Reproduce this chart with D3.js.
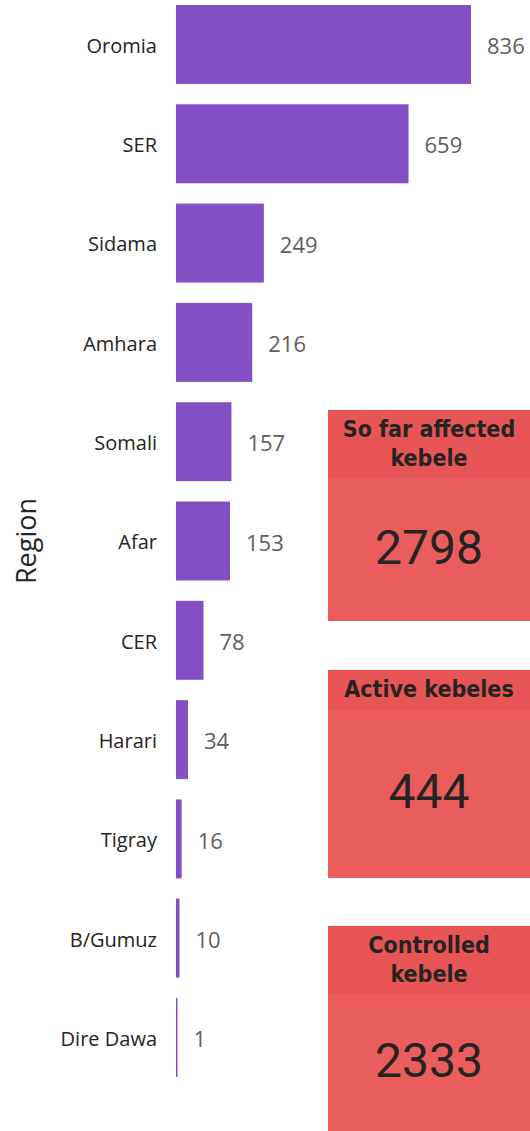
<!DOCTYPE html>
<html><head><meta charset="utf-8">
<script src="https://cdn.jsdelivr.net/npm/d3@7"></script>
<style>html,body{margin:0;padding:0;background:#fff;}svg{display:block;}</style>
</head><body>
<svg id="c" width="530" height="1131"></svg>
<script>
const regions = ["Oromia","SER","Sidama","Amhara","Somali","Afar","CER","Harari","Tigray","B/Gumuz","Dire Dawa"];
const kebeles = [836,659,249,216,157,153,78,34,16,10,1];
const cardTitles = [["So far affected","kebele"],["Active kebeles"],["Controlled","kebele"]];
const cardValues = [2798,444,2333];

const svg = d3.select("#c");
const x = d3.scaleLinear().domain([0, 836]).range([176, 471]);
const y = d3.scaleBand().domain(regions).range([5, 1077]).paddingInner(0.205).paddingOuter(0);

svg.append("g").selectAll("rect").data(regions).join("rect")
  .attr("x", x(0)).attr("y", d => y(d))
  .attr("width", (d,i) => Math.max(1.5, x(kebeles[i]) - x(0)))
  .attr("height", y.bandwidth()).attr("fill", "#8250C4");

const yAxis = svg.append("g").attr("transform", "translate(176,2)")
  .call(d3.axisLeft(y).tickSize(0).tickPadding(19));
yAxis.select(".domain").remove();
yAxis.selectAll("text").attr("font-family", "'Open Sans', sans-serif").attr("font-size", 20).attr("fill", "#252423");

svg.append("g").selectAll("text").data(regions).join("text")
  .attr("x", (d,i) => Math.max(x(kebeles[i]), x(0) + 1.5) + 16)
  .attr("y", d => y(d) + y.bandwidth()/2 + 2)
  .attr("dy", "0.35em")
  .attr("font-family", "'Open Sans', sans-serif").attr("font-size", 22).attr("fill", "#605E5C")
  .text((d,i) => kebeles[i]);

svg.append("text").attr("transform", "translate(36,541) rotate(-90)")
  .attr("text-anchor", "middle")
  .attr("font-family", "'Open Sans', sans-serif").attr("font-size", 27).attr("fill", "#252423")
  .text("Region");

// cards: [top, headerBottom, bottom]
const cardBoxes = [[410,478,621],[670,710,878],[926,994,1131]];
const cx0 = 328, cx1 = 530;
cardBoxes.forEach((b, i) => {
  const g = svg.append("g");
  g.append("rect").attr("x", cx0).attr("y", b[1]).attr("width", cx1-cx0).attr("height", b[2]-b[1]).attr("fill", "#EB5D5D");
  g.append("rect").attr("x", cx0).attr("y", b[0]).attr("width", cx1-cx0).attr("height", b[1]-b[0]).attr("fill", "#E85556");
  const lines = cardTitles[i];
  const lh = 29;
  const mid = (b[0]+b[1])/2;
  lines.forEach((t, j) => {
    g.append("text").attr("x", (cx0+cx1)/2)
      .attr("y", mid + (j - (lines.length-1)/2)*lh - 1)
      .attr("dy", "0.36em").attr("text-anchor", "middle")
      .attr("font-family", "'Liberation Sans Narrow','DejaVu Sans Condensed',sans-serif")
      .attr("font-weight", "bold").attr("font-size", 23).attr("fill", "#252423")
      .text(t);
  });
  g.append("text").attr("x", (cx0+cx1)/2).attr("y", (b[1]+b[2])/2 - 3)
    .attr("dy", "0.36em").attr("text-anchor", "middle")
    .attr("font-family", "Roboto, sans-serif").attr("font-weight", 400)
    .attr("font-size", 48).attr("fill", "#252423")
    .text(cardValues[i]);
});
</script>
</body></html>
